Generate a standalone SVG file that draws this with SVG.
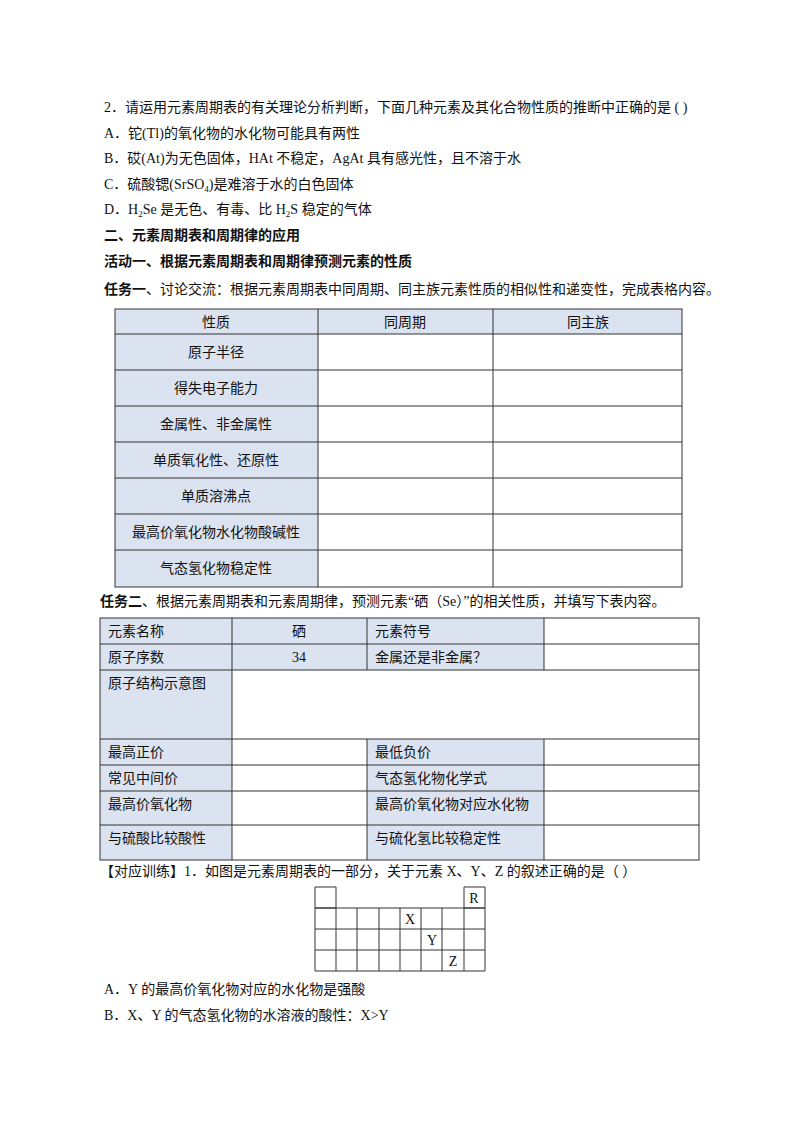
<svg xmlns="http://www.w3.org/2000/svg" width="800" height="1132" viewBox="0 0 800 1132">
<style>
text{font-family:"Liberation Serif","Noto Sans CJK SC",serif;font-size:14px;fill:#111}
.b{font-weight:bold}
.c{text-anchor:middle}
.s{fill:#dce3f0}
.g{fill:none;stroke:#333;stroke-width:1}
</style>
<rect width="800" height="1132" fill="#fff"/>
<text x="104" y="112">2．请运用元素周期表的有关理论分析判断，下面几种元素及其化合物性质的推断中正确的是 (        )</text>
<text x="104" y="138">A．铊(Tl)的氧化物的水化物可能具有两性</text>
<text x="104" y="163">B．砹(At)为无色固体，HAt 不稳定，AgAt 具有感光性，且不溶于水</text>
<text x="104" y="189">C．硫酸锶(SrSO<tspan font-size="9" dy="3">4</tspan><tspan dy="-3">)是难溶于水的白色固体</tspan></text>
<text x="104" y="214">D．H<tspan font-size="9" dy="3">2</tspan><tspan dy="-3">Se  是无色、有毒、比 H</tspan><tspan font-size="9" dy="3">2</tspan><tspan dy="-3">S 稳定的气体</tspan></text>
<text x="104" y="240" class="b">二、元素周期表和周期律的应用</text>
<text x="104" y="266" class="b">活动一、根据元素周期表和周期律预测元素的性质</text>
<text x="104" y="294"><tspan class="b" font-weight="bold">任务一</tspan>、讨论交流：根据元素周期表中同周期、同主族元素性质的相似性和递变性，完成表格内容。</text>
<g id="table1">
<rect class="s" x="115" y="309" width="567" height="25"/>
<rect class="s" x="115" y="334" width="203" height="253"/>
<rect class="g" x="115" y="309" width="567" height="278"/>
<path class="g" d="M318 309V587M493 309V587M115 334H682M115 370H682M115 406H682M115 442H682M115 478H682M115 514H682M115 550H682"/>
<text x="216" y="327" class="c">性质</text><text x="405" y="327" class="c">同周期</text><text x="588" y="327" class="c">同主族</text>
<text x="216" y="357" class="c">原子半径</text>
<text x="216" y="393" class="c">得失电子能力</text>
<text x="216" y="429" class="c">金属性、非金属性</text>
<text x="216" y="465" class="c">单质氧化性、还原性</text>
<text x="216" y="501" class="c">单质溶沸点</text>
<text x="216" y="537" class="c">最高价氧化物水化物酸碱性</text>
<text x="216" y="573" class="c">气态氢化物稳定性</text>
</g>
<text x="100" y="606"><tspan font-weight="bold">任务二</tspan>、根据元素周期表和元素周期律，预测元素“硒（Se）”的相关性质，并填写下表内容。</text>
<g id="table2">
<rect class="s" x="100" y="618" width="444" height="52"/>
<rect class="s" x="100" y="670" width="132" height="190"/>
<rect class="s" x="367" y="739" width="177" height="121"/>
<rect class="g" x="100" y="618" width="599" height="242"/>
<path class="g" d="M232 618V860M367 618V670M544 618V670M367 739V860M544 739V860M100 644H699M100 670H699M100 739H699M100 765H699M100 791H699M100 825H699"/>
<text x="108" y="636">元素名称</text><text x="299" y="636" class="c">硒</text><text x="375" y="636">元素符号</text>
<text x="108" y="662">原子序数</text><text x="299" y="662" class="c">34</text><text x="375" y="662">金属还是非金属？</text>
<text x="108" y="688">原子结构示意图</text>
<text x="108" y="757">最高正价</text><text x="375" y="757">最低负价</text>
<text x="108" y="783">常见中间价</text><text x="375" y="783">气态氢化物化学式</text>
<text x="108" y="809">最高价氧化物</text><text x="375" y="809">最高价氧化物对应水化物</text>
<text x="108" y="843">与硫酸比较酸性</text><text x="375" y="843">与硫化氢比较稳定性</text>
</g>
<text x="100" y="876">【对应训练】1．如图是元素周期表的一部分，关于元素 X、Y、Z 的叙述正确的是（        ）</text>
<g id="ptable">
<path class="g" d="M315 887h21v21h-21zM464 887h21v21h-21zM315 908H485V971H315zM315 929H485M315 950H485M336 908V971M357 908V971M379 908V971M400 908V971M421 908V971M442 908V971M464 908V971"/>
<text x="474" y="903" class="c" font-size="13">R</text>
<text x="410" y="924" class="c" font-size="13">X</text>
<text x="432" y="945" class="c" font-size="13">Y</text>
<text x="453" y="966" class="c" font-size="13">Z</text>
</g>
<text x="104" y="994">A．Y 的最高价氧化物对应的水化物是强酸</text>
<text x="104" y="1020">B．X、Y 的气态氢化物的水溶液的酸性：X&gt;Y</text>
</svg>
